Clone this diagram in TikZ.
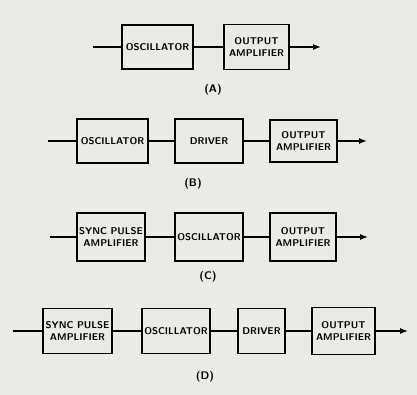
\documentclass[tikz,border=0pt]{standalone}
\usepackage{amsmath,amssymb}
\usepackage{tikz}
\usepackage{xcolor}
\usetikzlibrary{shapes,arrows,arrows.meta,positioning,calc}
\definecolor{paperGray}{RGB}{234,234,230}

\begin{document}
\begin{tikzpicture}[x=1pt, y=-1pt,
                    blk/.style={draw, line width=1.7pt, inner sep=0pt, align=center,
                                font=\fontsize{9.8}{11.5}\selectfont\sffamily\bfseries},
                    wire/.style={line width=1.3pt},
                    tip/.style={-{Latex[length=8pt,width=6pt]}},
                    caption/.style={font=\fontsize{11}{13}\selectfont\sffamily\bfseries}]
                    \fill[paperGray] (0,0) rectangle (417,395);
                    % (A)
                    \coordinate (a0) at (93,47);
                    \coordinate (a3) at (321,47);
                    \node[blk, minimum width=71, minimum height=44] (aosc) at (157.5,47) {OSCILLATOR};
                    \node[blk, minimum width=65, minimum height=45] (aout) at (256.5,47) {OUTPUT\\AMPLIFIER};
                    \draw[wire] (a0) -- (aosc);
                    \draw[wire] (aosc) -- (aout);
                    \draw[wire, tip] (aout) -- (a3);
                    \node[caption] (alab) at (213,90) {(A)};
                    % (B)
                    \coordinate (b0) at (48,141);
                    \coordinate (b4) at (367,141);
                    \node[blk, minimum width=71, minimum height=44] (bosc) at (112.5,141) {OSCILLATOR};
                    \node[blk, minimum width=68, minimum height=44] (bdrv) at (209,141) {DRIVER};
                    \node[blk, minimum width=67, minimum height=42] (bout) at (303.5,141) {OUTPUT\\AMPLIFIER};
                    \draw[wire] (b0) -- (bosc);
                    \draw[wire] (bosc) -- (bdrv);
                    \draw[wire] (bdrv) -- (bout);
                    \draw[wire, tip] (bout) -- (b4);
                    \node[caption] (blab) at (193,184) {(B)};
                    % (C)
                    \coordinate (c0) at (50,237);
                    \coordinate (c4) at (368,237);
                    \node[blk, minimum width=68, minimum height=48] (csync) at (111,237) {SYNC PULSE\\AMPLIFIER};
                    \node[blk, minimum width=68, minimum height=48] (cosc) at (209,237) {OSCILLATOR};
                    \node[blk, minimum width=66, minimum height=48] (cout) at (303,237) {OUTPUT\\AMPLIFIER};
                    \draw[wire] (c0) -- (csync);
                    \draw[wire] (csync) -- (cosc);
                    \draw[wire] (cosc) -- (cout);
                    \draw[wire, tip] (cout) -- (c4);
                    \node[caption] (clab) at (208,277) {(C)};
                    % (D)
                    \coordinate (d0) at (13,331);
                    \coordinate (d5) at (408,331);
                    \node[blk, minimum width=69, minimum height=45] (dsync) at (77.5,331) {SYNC PULSE\\AMPLIFIER};
                    \node[blk, minimum width=68, minimum height=45] (dosc) at (176,331) {OSCILLATOR};
                    \node[blk, minimum width=47, minimum height=45] (ddrv) at (261.5,331) {DRIVER};
                    \node[blk, minimum width=63, minimum height=47] (dout) at (343.5,331) {OUTPUT\\AMPLIFIER};
                    \draw[wire] (d0) -- (dsync);
                    \draw[wire] (dsync) -- (dosc);
                    \draw[wire] (dosc) -- (ddrv);
                    \draw[wire] (ddrv) -- (dout);
                    \draw[wire, tip] (dout) -- (d5);
                    \node[caption] (dlab) at (205,377) {(D)};
                \end{tikzpicture}
\end{document}
